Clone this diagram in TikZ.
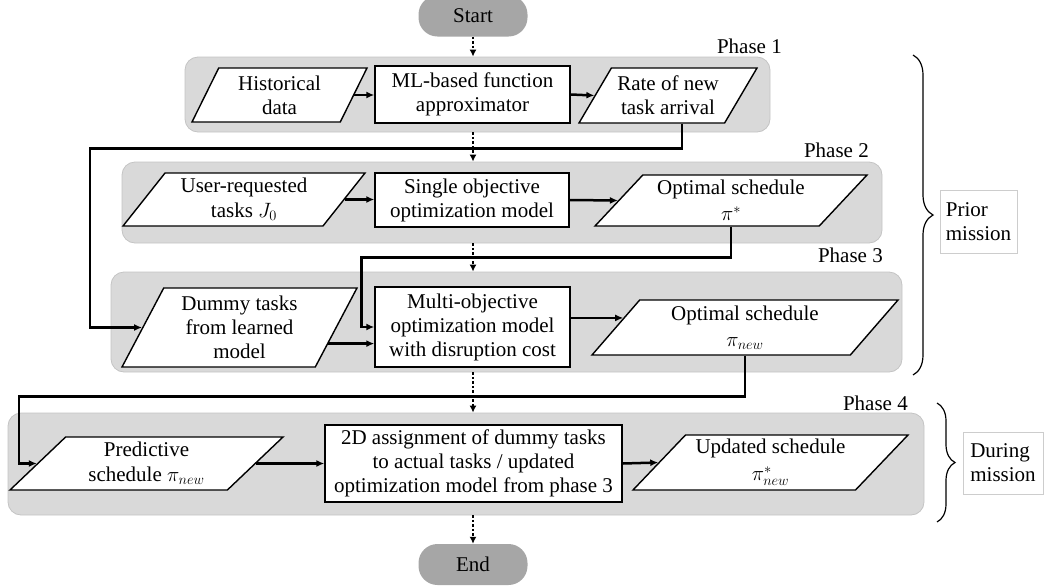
\documentclass[tikz,border=0pt]{standalone}
\usepackage{fontspec}
\setmainfont{Liberation Serif}
\usetikzlibrary{arrows.meta,positioning,calc,shapes.geometric,decorations.pathreplacing}
\definecolor{PhaseFill}{RGB}{217,217,217}
\definecolor{PhaseEdge}{RGB}{196,196,196}
\definecolor{TermFill}{RGB}{166,166,166}
\definecolor{SideEdge}{RGB}{205,205,205}
\tikzset{
  phasebox/.style={draw=PhaseEdge, fill=PhaseFill, rounded corners=13pt, line width=0.8pt, inner sep=0pt},
  procbox/.style={draw=black, fill=white, line width=1.4pt, align=center, inner sep=2pt},
  databox/.style={trapezium, trapezium stretches body, draw=black, fill=white, line width=1.4pt,
                  align=center, inner sep=2pt},
  terminal/.style={fill=TermFill, rounded corners=19pt, minimum width=109pt, minimum height=41pt},
  flow/.style={-{Latex[length=8pt,width=7pt]}, line width=2.5pt},
  flowdot/.style={-{Latex[length=7pt,width=7pt]}, line width=2.2pt, dash pattern=on 2.5pt off 2pt},
  phaselabel/.style={anchor=base east, inner sep=0pt},
  sidebox/.style={draw=SideEdge, fill=white, line width=0.8pt, align=left, inner sep=5pt},
  sidebrace/.style={decorate, decoration={brace, amplitude=#1}, line width=1.2pt},
}

\begin{document}
\begin{tikzpicture}[x=1pt, y=-1pt, font=\fontsize{21}{24}\selectfont]
  \useasboundingbox (0,0) rectangle (1047,587);

  % ------------------------------------------------------------------ panels
  \node[phasebox, minimum width=585pt, minimum height=75pt]  (p1) at (477.5,94.5) {};
  \node[phasebox, minimum width=760pt, minimum height=81pt]  (p2) at (502,202.5) {};
  \node[phasebox, minimum width=791pt, minimum height=100pt] (p3) at (506.5,322) {};
  \node[phasebox, minimum width=916pt, minimum height=102pt] (p4) at (466,464) {};
  \node[phaselabel] (l1) at (782,53)  {Phase 1};
  \node[phaselabel] (l2) at (869,157) {Phase 2};
  \node[phaselabel] (l3) at (883,262) {Phase 3};
  \node[phaselabel] (l4) at (908,410) {Phase 4};

  \node[terminal] (start) at (473,16) {Start};
  \node[terminal] (end) at (473,564.5) {End};

  % ------------------------------------------------------------------ phase 1
  \node[databox, trapezium left angle=58, trapezium right angle=122,
        minimum width=175pt, minimum height=54pt] (hist) at (279.5,95) {Historical\\data};
  \node[procbox, minimum width=195pt, minimum height=57pt] (ml) at (472.5,94.5)
    {ML-based function\\approximator};
  \node[databox, trapezium left angle=53, trapezium right angle=127,
        minimum width=178pt, minimum height=55pt] (rate) at (668,95.5) {Rate of new\\task arrival};

  % ------------------------------------------------------------------ phase 2
  \node[databox, trapezium left angle=48, trapezium right angle=132,
        minimum width=242pt, minimum height=53pt] (user) at (244,199.5) {User-requested\\[1pt]tasks $J_0$};
  \node[procbox, minimum width=194pt, minimum height=54pt] (single) at (472,200)
    {Single objective\\optimization model};
  \node[databox, trapezium left angle=43, trapezium right angle=137,
        minimum width=272pt, minimum height=51pt] (optstar) at (731,200.5) {Optimal schedule\\[2pt]$\pi^{*}$};

  % ------------------------------------------------------------------ phase 3
  \node[databox, trapezium left angle=58, trapezium right angle=122,
        minimum width=235pt, minimum height=79pt] (dummy) at (239.5,327.5)
    {Dummy tasks\\from learned\\model};
  \node[procbox, minimum width=195pt, minimum height=80pt] (multi) at (472.5,327)
    {Multi-objective\\optimization model\\with disruption cost};
  \node[databox, trapezium left angle=45, trapezium right angle=135,
        minimum width=306pt, minimum height=55pt] (optnew) at (745,327.5) {Optimal schedule\\[2pt]$\pi_{new}$};

  % ------------------------------------------------------------------ phase 4
  \node[databox, trapezium left angle=40, trapezium right angle=140,
        minimum width=273pt, minimum height=53pt] (pred) at (146.5,463.5) {Predictive\\[1pt]schedule $\pi_{new}$};
  \node[procbox, minimum width=297pt, minimum height=77pt] (assign) at (473.5,463.5)
    {2D assignment of dummy tasks\\to actual tasks / updated\\optimization model from phase 3};
  \node[databox, trapezium left angle=44, trapezium right angle=136,
        minimum width=275pt, minimum height=55pt] (upd) at (770.5,462.5) {Updated schedule\\[3pt]$\pi^{*}_{new}$};

  % ------------------------------------------------------------------ flow between phases
  \draw[flowdot] (start.south) -- (start.south |- p1.north);
  \draw[flowdot] (start.south |- p1.south) -- (start.south |- p2.north);
  \draw[flowdot] (start.south |- p2.south) -- (start.south |- p3.north);
  \draw[flowdot] (start.south |- p3.south) -- (start.south |- p4.north);
  \draw[flowdot] (start.south |- p4.south) -- (end.north);

  % ------------------------------------------------------------------ flow inside phases
  \draw[flow] (hist.east) -- (hist.east -| ml.west);
  \draw[flow] (ml.east) -- (rate.west);
  \draw[flow] (user.east) -- (user.east -| single.west);
  \draw[flow] (single.east) -- (optstar.west);
  \coordinate (dm) at ($(dummy.bottom right corner)!0.3!(dummy.top right corner)$);
  \draw[flow] (dm) -- (dm -| multi.west);
  \coordinate (mo) at ($(optnew.bottom left corner)!0.67!(optnew.top left corner)$);
  \draw[flow] (mo -| multi.east) -- (mo);
  \draw[flow] (pred.east) -- (pred.east -| assign.west);
  \draw[flow] (assign.east) -- (upd.west);

  % feedback lines to the next phase
  \draw[flow] ($(rate.south)+(14,0)$) -- ++(0,25) -| ([xshift=-52pt]dummy.west) -- (dummy.west);
  \draw[flow] (optstar.south) -- ++(0,31) -| ([xshift=-13pt]multi.west) -- (multi.west);
  \draw[flow] (optnew.south) -- ++(0,41) -| ([xshift=-18pt]pred.west) -- (pred.west);

  % ------------------------------------------------------------------ braces
  \draw[sidebrace=20pt] (913,55) -- (913,375);
  \node[sidebox, minimum width=77pt, minimum height=63pt] (prior) at (978.5,222) {Prior\\mission};
  \draw[sidebrace=18pt] (937,403) -- (937,522);
  \node[sidebox, minimum width=80pt, minimum height=62pt] (during) at (1003,463) {During\\mission};
\end{tikzpicture}
\end{document}
